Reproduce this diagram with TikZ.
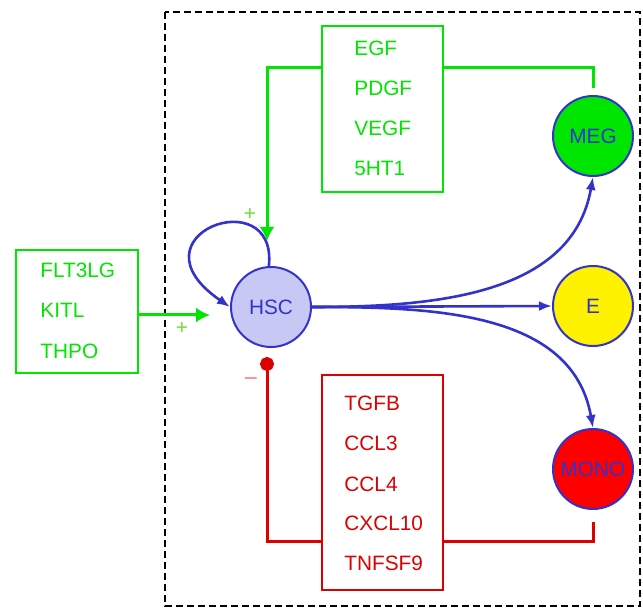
\documentclass[tikz,border=0pt]{standalone}
\usepackage{fontspec}
\setmainfont{Liberation Sans}
\usepackage{tikz}
\usetikzlibrary{arrows.meta}

\definecolor{cellblue}{RGB}{51,51,204}
\definecolor{hscfill}{RGB}{200,200,245}
\definecolor{upgreen}{RGB}{0,230,0}
\definecolor{plusgreen}{RGB}{110,220,60}
\definecolor{downred}{RGB}{220,0,0}

\begin{document}
\begin{tikzpicture}[x=0.5pt,y=-0.5pt,
  every node/.style={font=\fontsize{10.4}{12}\selectfont},
  cell/.style={circle,draw=cellblue,line width=1pt,minimum size=40pt,inner sep=0pt,text=cellblue},
  factorbox/.style={draw,line width=1pt,minimum width=60.5pt,inner sep=0pt},
  factor/.style={anchor=west,inner sep=0pt},
  lineage/.style={cellblue,line width=1.3pt,-{Latex[length=6.5pt,width=5pt]}},
  signal/.style={line width=1.5pt}]
\useasboundingbox (0,0) rectangle (643,609);
\draw[dash pattern=on 3.5pt off 2pt,line width=0.8pt] (165,12) rectangle (640,606);

% cells
\node[cell,fill=hscfill] (hsc) at (271,307) {HSC};
\node[cell,fill=upgreen] (meg) at (593,136) {MEG};
\node[cell,fill=yellow] (ery) at (593,306) {E};
\node[cell,fill=red] (mono) at (593,469) {MONO};

% factor boxes
\node[factorbox,draw=upgreen,minimum height=83pt] (gfbox) at (382.5,109) {};
\node[factorbox,draw=upgreen,minimum width=61pt,minimum height=61.5pt] (lfbox) at (77,311.5) {};
\node[factorbox,draw=downred,minimum height=107.5pt] (rdbox) at (382.5,482.5) {};
\foreach \t/\y [count=\i] in {EGF/48,PDGF/88,VEGF/128,5HT1/168}
  \node[factor,text=upgreen] (gf\i) at (354,\y) {\t};
\foreach \t/\y [count=\i] in {FLT3LG/270,KITL/310,THPO/351}
  \node[factor,text=upgreen] (lf\i) at (40,\y) {\t};
\foreach \t/\y [count=\i] in {TGFB/403,CCL3/443,CCL4/484,CXCL10/523,TNFSF9/563}
  \node[factor,text=downred] (rd\i) at (344,\y) {\t};

% signs
\node[text=plusgreen] (plustop) at (250,214) {+};
\node[text=plusgreen] (plusleft) at (182,328) {+};
\node[text=downred] (minus) at (251,379) {$-$};

% differentiation
\draw[lineage] (hsc.93) .. controls (278,180) and (125,235) .. (hsc.west);
\draw[lineage] (hsc.east) to[out=0,in=-100] (meg.south);
\draw[lineage] (hsc.east) -- (ery.west);
\draw[lineage] (hsc.east) to[out=0,in=100] (mono.north);

% feedback
\draw[signal,upgreen,-{Latex[length=7pt,width=7.5pt]}]
  ([yshift=-21.5pt]gfbox.north west) -| ([xshift=-2pt,yshift=12.5pt]hsc.north);
\draw[signal,upgreen] ([yshift=-21.5pt]gfbox.north east) -| ([yshift=3.5pt]meg.north);
\draw[signal,upgreen,-{Latex[length=7pt,width=7.5pt]}]
  ([yshift=-1.75pt]lfbox.east) -- ([xshift=-10pt,yshift=-1.75pt]lfbox.east -| hsc.west);
\draw[signal,downred,-{Circle[length=7pt]}]
  ([yshift=25pt]rdbox.south west) -| ([xshift=-2pt,yshift=-4.5pt]hsc.south);
\draw[signal,downred] ([yshift=25pt]rdbox.south east) -| ([yshift=-6pt]mono.south);
\end{tikzpicture}
\end{document}
